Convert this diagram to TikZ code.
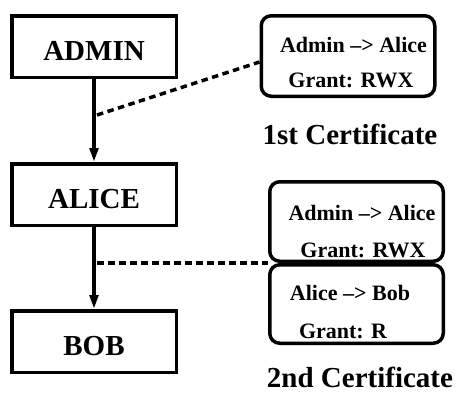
\documentclass[tikz,border=0pt]{standalone}
\usepackage{fontspec}
\setmainfont{Liberation Serif}
\usetikzlibrary{arrows.meta}

\begin{document}
\begin{tikzpicture}[x=1pt,y=-1pt,
    user/.style={draw,line width=3.5pt,minimum width=164.5pt,minimum height=61.5pt,
      text height=27pt,text depth=0pt,font=\bfseries\fontsize{29}{34}\selectfont},
    cert/.style={draw,line width=3.5pt,rounded corners=10pt,minimum width=173.5pt},
    certline/.style={anchor=base,inner sep=0pt,font=\bfseries\fontsize{22}{26}\selectfont},
    certname/.style={anchor=base,inner sep=0pt,font=\bfseries\fontsize{29}{34}\selectfont},
    grant/.style={-{Triangle[length=14pt,width=8.5pt]},line width=3.5pt},
    link/.style={line width=3.5pt,dash pattern=on 6.5pt off 4.5pt}]
  \useasboundingbox (0,0) rectangle (460,394);
  % the chain of users
  \node[user] (admin) at (94,46.5) {ADMIN};
  \node[user] (alice) at (94,194.5) {ALICE};
  \node[user] (bob) at (94,341.5) {BOB};
  \draw[grant] (admin) -- (alice);
  \draw[grant] (alice) -- (bob);
  % first certificate
  \node[cert,minimum height=80.5pt] (cert1) at (348,56) {};
  \node[certline] (c1from) at (353.5,52) {Admin --> Alice};
  \node[certline] (c1right) at (351,87) {Grant: RWX};
  \node[certname] (c1name) at (350,144) {1st Certificate};
  % second certificate
  \node[cert,minimum height=79.5pt] (cert2a) at (356.5,221.5) {};
  \node[cert,minimum height=78.5pt] (cert2b) at (356.5,304) {};
  \node[certline] (c2from) at (362,220) {Admin --> Alice};
  \node[certline] (c2right) at (363,257) {Grant: RWX};
  \node[certline] (c3from) at (350,300) {Alice --> Bob};
  \node[certline] (c3right) at (343,338) {Grant: R};
  \node[certname] (c2name) at (360,387) {2nd Certificate};
  % links from the edges to the certificates
  \coordinate (tap1) at (97,115);
  \coordinate (tap2) at (97,263);
  \draw[link] (tap1) -- ([yshift=-6pt]cert1.west);
  \draw[link] (tap2) -- (tap2 -| cert2a.west);
\end{tikzpicture}
\end{document}
